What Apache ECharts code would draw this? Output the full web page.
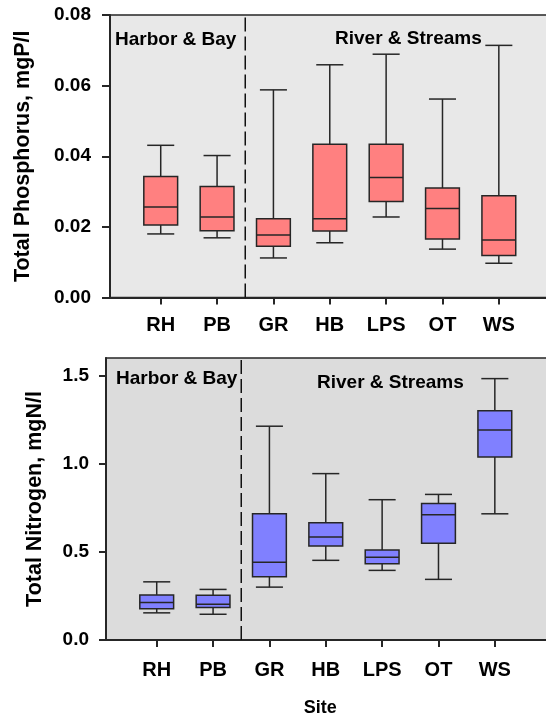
<!DOCTYPE html>
<html>
<head>
<meta charset="utf-8">
<script src="https://cdn.jsdelivr.net/npm/echarts@6/dist/echarts.min.js"></script>
<style>
  html, body { margin: 0; padding: 0; background: #ffffff; }
  #chart { width: 546px; height: 721px; }
</style>
</head>
<body>
<div id="chart"></div>
<script>
// Sampling sites, in plotting order
const sites = ['RH', 'PB', 'GR', 'HB', 'LPS', 'OT', 'WS'];
const sitePositions = [1, 2, 3, 4, 5, 6, 7];

// Total phosphorus (mgP/l): whisker ends, quartiles and median per site
const phosMin    = [0.0180, 0.0169, 0.0112, 0.0155, 0.0228, 0.0137, 0.0097];
const phosQ1     = [0.0205, 0.0189, 0.0145, 0.0188, 0.0272, 0.0166, 0.0119];
const phosMedian = [0.0256, 0.0228, 0.0177, 0.0223, 0.0340, 0.0252, 0.0163];
const phosQ3     = [0.0343, 0.0314, 0.0223, 0.0434, 0.0434, 0.0310, 0.0288];
const phosMax    = [0.0431, 0.0402, 0.0588, 0.0659, 0.0689, 0.0562, 0.0714];

// Total nitrogen (mgN/l)
const nitroMin    = [0.154, 0.146, 0.300, 0.452, 0.395, 0.344, 0.716];
const nitroQ1     = [0.177, 0.184, 0.359, 0.534, 0.433, 0.549, 1.039];
const nitroMedian = [0.213, 0.203, 0.441, 0.585, 0.469, 0.710, 1.192];
const nitroQ3     = [0.256, 0.254, 0.716, 0.665, 0.511, 0.775, 1.301];
const nitroMax    = [0.330, 0.287, 1.213, 0.944, 0.796, 0.826, 1.483];

// Axis ticks
const phosTicks  = [0, 0.02, 0.04, 0.06, 0.08];
const nitroTicks = [0, 0.5, 1.0, 1.5];

// Water body groups, split between PB and GR
const regionNames = ['Harbor & Bay', 'River & Streams'];
const regionDivider = 2.5;

const FONT = '"Liberation Sans", Arial, sans-serif';
const INK = '#262626';

function boxRows(mins, q1s, meds, q3s, maxs) {
  return sitePositions.map((x, i) => [x, mins[i], q1s[i], meds[i], q3s[i], maxs[i]]);
}

function renderBox(params, api) {
  const x = api.value(0);
  const lo = api.coord([x, api.value(1)]);
  const q1 = api.coord([x, api.value(2)]);
  const md = api.coord([x, api.value(3)]);
  const q3 = api.coord([x, api.value(4)]);
  const hi = api.coord([x, api.value(5)]);
  const boxW = api.size([0.6, 0])[0];
  const capW = api.size([0.48, 0])[0];
  const cx = lo[0];
  const line = { stroke: INK, lineWidth: 1.5 };
  return {
    type: 'group',
    children: [
      { type: 'line', shape: { x1: cx, y1: hi[1], x2: cx, y2: q3[1] }, style: line },
      { type: 'line', shape: { x1: cx, y1: q1[1], x2: cx, y2: lo[1] }, style: line },
      { type: 'line', shape: { x1: cx - capW / 2, y1: hi[1], x2: cx + capW / 2, y2: hi[1] }, style: line },
      { type: 'line', shape: { x1: cx - capW / 2, y1: lo[1], x2: cx + capW / 2, y2: lo[1] }, style: line },
      { type: 'rect', shape: { x: cx - boxW / 2, y: q3[1], width: boxW, height: q1[1] - q3[1] },
        style: { fill: api.visual('color'), stroke: INK, lineWidth: 1.5 } },
      { type: 'line', shape: { x1: cx - boxW / 2, y1: md[1], x2: cx + boxW / 2, y2: md[1] }, style: line }
    ]
  };
}

function siteAxis(gridIndex) {
  return {
    type: 'value', gridIndex: gridIndex, min: 0.1, max: 8.6,
    axisLine: { show: true, onZero: false, lineStyle: { color: INK, width: 2 } },
    axisTick: { show: true, customValues: sitePositions, length: 7, lineStyle: { color: INK, width: 2 } },
    axisLabel: {
      customValues: sitePositions, margin: gridIndex === 0 ? 18 : 20,
      formatter: v => sites[sitePositions.indexOf(v)] || '',
      color: '#000', fontFamily: FONT, fontWeight: 'bold', fontSize: 20
    },
    splitLine: { show: false }
  };
}

const chart = echarts.init(document.getElementById('chart'));

// The plot frames run past the right edge of the page, so bounds clamping is off
chart.setOption({
  animation: false,
  backgroundColor: '#ffffff',
  grid: [
    { left: 110, top: 15, width: 479, height: 282.5, show: true, outerBoundsMode: 'none',
      containLabel: false, backgroundColor: '#e8e8e8', borderColor: INK, borderWidth: 1.5 },
    { left: 106, top: 358, width: 479, height: 282, show: true, outerBoundsMode: 'none',
      containLabel: false, backgroundColor: '#dcdcdc', borderColor: INK, borderWidth: 1.5 }
  ],
  xAxis: [siteAxis(0), siteAxis(1)],
  yAxis: [
    {
      type: 'value', gridIndex: 0, min: 0, max: 0.08, interval: 0.02,
      name: 'Total Phosphorus, mgP/l', nameLocation: 'middle', nameGap: 76,
      nameTextStyle: { color: '#000', fontFamily: FONT, fontWeight: 'bold', fontSize: 21.5 },
      axisLine: { show: true, lineStyle: { color: INK, width: 2 } },
      axisTick: { show: true, length: 8, lineStyle: { color: INK, width: 2 } },
      axisLabel: { margin: 19, formatter: v => v.toFixed(2),
        color: '#000', fontFamily: FONT, fontWeight: 'bold', fontSize: 19 },
      splitLine: { show: false }
    },
    {
      type: 'value', gridIndex: 1, min: 0, max: 1.6,
      name: 'Total Nitrogen, mgN/l', nameLocation: 'middle', nameGap: 60,
      nameTextStyle: { color: '#000', fontFamily: FONT, fontWeight: 'bold', fontSize: 21.5 },
      axisLine: { show: true, lineStyle: { color: INK, width: 2 } },
      axisTick: { show: true, customValues: nitroTicks, length: 7, lineStyle: { color: INK, width: 2 } },
      axisLabel: { customValues: nitroTicks, margin: 17, formatter: v => v.toFixed(1),
        color: '#000', fontFamily: FONT, fontWeight: 'bold', fontSize: 19 },
      splitLine: { show: false }
    }
  ],
  series: [
    { type: 'line', xAxisIndex: 0, yAxisIndex: 0, symbol: 'none', silent: true,
      data: [[regionDivider, phosTicks[0]], [regionDivider, phosTicks[phosTicks.length - 1]]],
      lineStyle: { color: '#111', width: 1.5, type: [14, 5] } },
    { type: 'line', xAxisIndex: 1, yAxisIndex: 1, symbol: 'none', silent: true,
      data: [[regionDivider, 0], [regionDivider, 1.6]],
      lineStyle: { color: '#111', width: 1.5, type: [14, 5] } },
    { type: 'custom', name: 'Total Phosphorus', xAxisIndex: 0, yAxisIndex: 0,
      itemStyle: { color: '#ff8080' }, renderItem: renderBox,
      encode: { x: 0, y: [1, 2, 3, 4, 5] },
      data: boxRows(phosMin, phosQ1, phosMedian, phosQ3, phosMax) },
    { type: 'custom', name: 'Total Nitrogen', xAxisIndex: 1, yAxisIndex: 1,
      itemStyle: { color: '#8080ff' }, renderItem: renderBox,
      encode: { x: 0, y: [1, 2, 3, 4, 5] },
      data: boxRows(nitroMin, nitroQ1, nitroMedian, nitroQ3, nitroMax) }
  ]
});

// Group captions inside each panel and the shared x-axis title
const textStyle = { fill: '#000', fontFamily: FONT, fontWeight: 'bold', fontSize: 19 };
const siteTitleX = chart.convertToPixel({ xAxisIndex: 1 }, 3.9);
chart.setOption({
  graphic: [
    { type: 'text', x: 115, y: 40, style: Object.assign({ text: regionNames[0], verticalAlign: 'middle' }, textStyle) },
    { type: 'text', x: 335, y: 38.5, style: Object.assign({ text: regionNames[1], verticalAlign: 'middle' }, textStyle) },
    { type: 'text', x: 116, y: 379, style: Object.assign({ text: regionNames[0], verticalAlign: 'middle' }, textStyle) },
    { type: 'text', x: 317, y: 383, style: Object.assign({ text: regionNames[1], verticalAlign: 'middle' }, textStyle) },
    { type: 'text', x: siteTitleX, y: 708,
      style: Object.assign({ text: 'Site', align: 'center', verticalAlign: 'middle' }, textStyle, { fontSize: 18 }) }
  ]
});
</script>
</body>
</html>
